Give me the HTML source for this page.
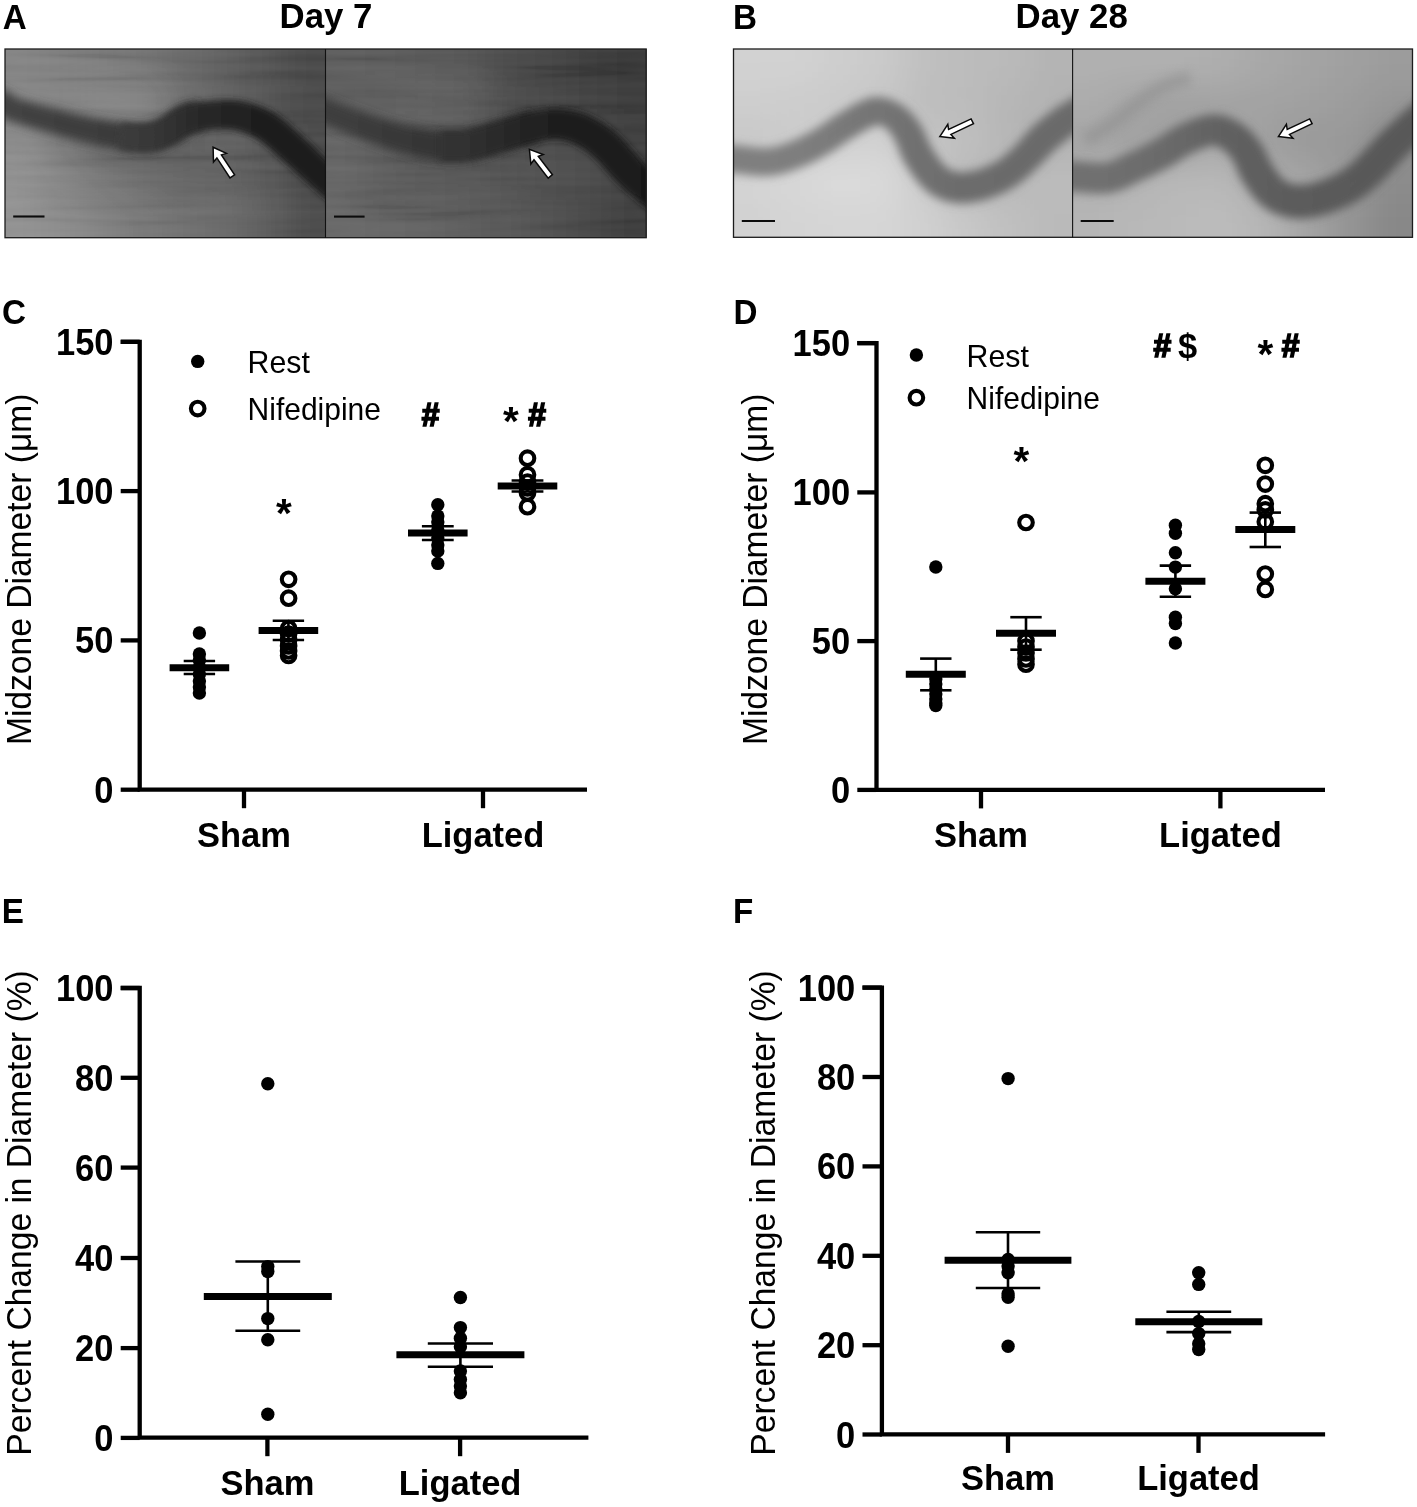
<!DOCTYPE html>
<html lang="en"><head><meta charset="utf-8"><title>Figure</title>
<style>html,body{margin:0;padding:0;background:#fff}body{width:1417px;height:1507px;overflow:hidden}svg{display:block}text{font-family:"Liberation Sans",Arial,sans-serif;fill:#000}.b{font-weight:bold}</style></head><body>
<svg width="1417" height="1507" viewBox="0 0 1417 1507">
<defs>
<filter id="bg" x="-10%" y="-10%" width="120%" height="120%"><feGaussianBlur stdDeviation="16"/></filter>
<filter id="streak" x="0" y="0" width="100%" height="100%"><feTurbulence type="fractalNoise" baseFrequency="0.006 0.11" numOctaves="2" seed="4"/><feColorMatrix type="matrix" values="1.6 0 0 0 -0.38  1.6 0 0 0 -0.38  1.6 0 0 0 -0.38  0 0 0 0 0.3"/></filter>
<filter id="bl4" x="-20%" y="-50%" width="140%" height="200%"><feGaussianBlur stdDeviation="3.2"/></filter>
<filter id="bl5" x="-20%" y="-50%" width="140%" height="200%"><feGaussianBlur stdDeviation="4.6"/></filter>
<filter id="bl6" x="-20%" y="-50%" width="140%" height="200%"><feGaussianBlur stdDeviation="5"/></filter>
<clipPath id="cA1"><rect x="5" y="49" width="320.5" height="189"/></clipPath>
<clipPath id="cA2"><rect x="325.5" y="49" width="321" height="189"/></clipPath>
<clipPath id="cB1"><rect x="733.5" y="49" width="339" height="188.5"/></clipPath>
<clipPath id="cB2"><rect x="1072.5" y="49" width="340" height="188.5"/></clipPath>
</defs>
<text class="b" transform="translate(2.8 28.9) scale(1 1.030)" font-size="33.2" text-anchor="start">A</text>
<text class="b" transform="translate(733.1 28.7) scale(1 1.030)" font-size="33.2" text-anchor="start">B</text>
<text class="b" transform="translate(326.0 27.8) scale(1 1.000)" font-size="34.8" text-anchor="middle">Day 7</text>
<text class="b" transform="translate(1071.7 27.8) scale(1 1.000)" font-size="34.8" text-anchor="middle">Day 28</text>
<g clip-path="url(#cA1)">
<g filter="url(#bg)">
<rect x="-35.6" y="10.7" width="41.1" height="38.8" fill="#848484"/>
<rect x="4.5" y="10.7" width="41.1" height="38.8" fill="#848484"/>
<rect x="44.6" y="10.7" width="41.1" height="38.8" fill="#808080"/>
<rect x="84.6" y="10.7" width="41.1" height="38.8" fill="#7a7a7a"/>
<rect x="124.7" y="10.7" width="41.1" height="38.8" fill="#727272"/>
<rect x="164.8" y="10.7" width="41.1" height="38.8" fill="#686868"/>
<rect x="204.8" y="10.7" width="41.1" height="38.8" fill="#5e5e5e"/>
<rect x="244.9" y="10.7" width="41.1" height="38.8" fill="#525252"/>
<rect x="284.9" y="10.7" width="41.1" height="38.8" fill="#464646"/>
<rect x="325.0" y="10.7" width="41.1" height="38.8" fill="#464646"/>
<rect x="-35.6" y="48.5" width="41.1" height="38.8" fill="#848484"/>
<rect x="4.5" y="48.5" width="41.1" height="38.8" fill="#848484"/>
<rect x="44.6" y="48.5" width="41.1" height="38.8" fill="#808080"/>
<rect x="84.6" y="48.5" width="41.1" height="38.8" fill="#7a7a7a"/>
<rect x="124.7" y="48.5" width="41.1" height="38.8" fill="#727272"/>
<rect x="164.8" y="48.5" width="41.1" height="38.8" fill="#686868"/>
<rect x="204.8" y="48.5" width="41.1" height="38.8" fill="#5e5e5e"/>
<rect x="244.9" y="48.5" width="41.1" height="38.8" fill="#525252"/>
<rect x="284.9" y="48.5" width="41.1" height="38.8" fill="#464646"/>
<rect x="325.0" y="48.5" width="41.1" height="38.8" fill="#464646"/>
<rect x="-35.6" y="86.3" width="41.1" height="38.8" fill="#848484"/>
<rect x="4.5" y="86.3" width="41.1" height="38.8" fill="#848484"/>
<rect x="44.6" y="86.3" width="41.1" height="38.8" fill="#848484"/>
<rect x="84.6" y="86.3" width="41.1" height="38.8" fill="#8a8a8a"/>
<rect x="124.7" y="86.3" width="41.1" height="38.8" fill="#888888"/>
<rect x="164.8" y="86.3" width="41.1" height="38.8" fill="#6c6c6c"/>
<rect x="204.8" y="86.3" width="41.1" height="38.8" fill="#5c5c5c"/>
<rect x="244.9" y="86.3" width="41.1" height="38.8" fill="#505050"/>
<rect x="284.9" y="86.3" width="41.1" height="38.8" fill="#464646"/>
<rect x="325.0" y="86.3" width="41.1" height="38.8" fill="#464646"/>
<rect x="-35.6" y="124.1" width="41.1" height="38.8" fill="#8a8a8a"/>
<rect x="4.5" y="124.1" width="41.1" height="38.8" fill="#8a8a8a"/>
<rect x="44.6" y="124.1" width="41.1" height="38.8" fill="#727272"/>
<rect x="84.6" y="124.1" width="41.1" height="38.8" fill="#5e5e5e"/>
<rect x="124.7" y="124.1" width="41.1" height="38.8" fill="#585858"/>
<rect x="164.8" y="124.1" width="41.1" height="38.8" fill="#5a5a5a"/>
<rect x="204.8" y="124.1" width="41.1" height="38.8" fill="#5e5e5e"/>
<rect x="244.9" y="124.1" width="41.1" height="38.8" fill="#565656"/>
<rect x="284.9" y="124.1" width="41.1" height="38.8" fill="#464646"/>
<rect x="325.0" y="124.1" width="41.1" height="38.8" fill="#464646"/>
<rect x="-35.6" y="161.9" width="41.1" height="38.8" fill="#929292"/>
<rect x="4.5" y="161.9" width="41.1" height="38.8" fill="#929292"/>
<rect x="44.6" y="161.9" width="41.1" height="38.8" fill="#848484"/>
<rect x="84.6" y="161.9" width="41.1" height="38.8" fill="#747474"/>
<rect x="124.7" y="161.9" width="41.1" height="38.8" fill="#6a6a6a"/>
<rect x="164.8" y="161.9" width="41.1" height="38.8" fill="#646464"/>
<rect x="204.8" y="161.9" width="41.1" height="38.8" fill="#626262"/>
<rect x="244.9" y="161.9" width="41.1" height="38.8" fill="#585858"/>
<rect x="284.9" y="161.9" width="41.1" height="38.8" fill="#444444"/>
<rect x="325.0" y="161.9" width="41.1" height="38.8" fill="#444444"/>
<rect x="-35.6" y="199.7" width="41.1" height="38.8" fill="#929292"/>
<rect x="4.5" y="199.7" width="41.1" height="38.8" fill="#929292"/>
<rect x="44.6" y="199.7" width="41.1" height="38.8" fill="#8c8c8c"/>
<rect x="84.6" y="199.7" width="41.1" height="38.8" fill="#828282"/>
<rect x="124.7" y="199.7" width="41.1" height="38.8" fill="#787878"/>
<rect x="164.8" y="199.7" width="41.1" height="38.8" fill="#6e6e6e"/>
<rect x="204.8" y="199.7" width="41.1" height="38.8" fill="#686868"/>
<rect x="244.9" y="199.7" width="41.1" height="38.8" fill="#5c5c5c"/>
<rect x="284.9" y="199.7" width="41.1" height="38.8" fill="#4a4a4a"/>
<rect x="325.0" y="199.7" width="41.1" height="38.8" fill="#4a4a4a"/>
<rect x="-35.6" y="237.5" width="41.1" height="38.8" fill="#929292"/>
<rect x="4.5" y="237.5" width="41.1" height="38.8" fill="#929292"/>
<rect x="44.6" y="237.5" width="41.1" height="38.8" fill="#8c8c8c"/>
<rect x="84.6" y="237.5" width="41.1" height="38.8" fill="#828282"/>
<rect x="124.7" y="237.5" width="41.1" height="38.8" fill="#787878"/>
<rect x="164.8" y="237.5" width="41.1" height="38.8" fill="#6e6e6e"/>
<rect x="204.8" y="237.5" width="41.1" height="38.8" fill="#686868"/>
<rect x="244.9" y="237.5" width="41.1" height="38.8" fill="#5c5c5c"/>
<rect x="284.9" y="237.5" width="41.1" height="38.8" fill="#4a4a4a"/>
<rect x="325.0" y="237.5" width="41.1" height="38.8" fill="#4a4a4a"/>
</g>
<rect x="5" y="49" width="321" height="189" filter="url(#streak)" opacity="0.2"/>
<linearGradient id="vA1a" gradientUnits="userSpaceOnUse" x1="-15.0" y1="0" x2="200.0" y2="0"><stop offset="0.000" stop-color="#454545"/><stop offset="0.349" stop-color="#3e3e3e"/><stop offset="0.767" stop-color="#383838"/><stop offset="1.000" stop-color="#2c2c2c"/></linearGradient>
<polygon points="-19.9,106.0 -18.8,106.4 -17.5,107.0 -15.9,107.7 -14.2,108.5 -12.3,109.3 -10.3,110.1 -8.4,111.0 -6.4,111.9 -4.6,112.7 -3.0,113.5 -1.6,114.1 -0.6,114.6 -0.4,114.7 -1.0,114.3 -2.0,113.3 -2.8,112.2 -3.0,111.8 -2.5,112.8 -1.0,114.8 0.9,116.7 2.9,118.1 4.8,119.1 6.8,120.0 9.0,120.8 11.4,121.7 14.2,122.6 17.3,123.6 20.5,124.6 24.0,125.6 27.7,126.7 31.4,127.8 35.2,128.9 39.0,130.0 42.7,131.1 46.3,132.1 49.8,133.1 53.1,134.0 56.4,134.9 59.7,135.9 63.1,136.8 66.5,137.7 69.8,138.7 73.2,139.6 76.6,140.5 80.0,141.3 83.5,142.1 86.9,143.0 90.4,143.7 93.9,144.5 97.5,145.2 101.1,145.9 104.8,146.7 108.5,147.3 112.2,148.0 115.8,148.6 119.3,149.2 122.6,149.7 125.8,150.2 128.8,150.6 131.6,150.9 134.2,151.2 136.5,151.4 138.7,151.6 140.7,151.7 142.7,151.8 144.6,151.8 146.4,151.7 148.1,151.6 149.8,151.5 151.4,151.3 153.0,151.0 154.6,150.7 156.4,150.4 158.3,150.0 160.0,149.5 161.8,149.0 163.5,148.4 165.1,147.7 166.7,147.1 168.3,146.4 169.8,145.7 171.3,145.0 172.9,144.2 174.5,143.4 176.4,142.4 178.4,141.2 180.3,140.1 182.1,138.9 183.8,137.8 185.5,136.7 187.1,135.7 188.6,134.7 189.9,133.9 191.1,133.2 192.0,132.7 192.7,132.4 193.2,132.2 193.9,132.0 194.6,131.8 195.3,131.6 196.2,131.4 197.0,131.2 197.9,131.0 198.9,130.9 199.8,130.8 200.8,130.6 202.0,130.4 203.0,130.2 197.0,101.8 196.7,101.9 196.3,101.9 195.6,102.0 194.5,102.2 193.2,102.4 191.8,102.6 190.2,102.9 188.4,103.3 186.5,103.8 184.5,104.5 182.5,105.2 180.3,106.2 178.2,107.3 176.3,108.4 174.4,109.6 172.6,110.8 170.9,112.1 169.3,113.3 167.7,114.4 166.2,115.5 164.9,116.5 163.6,117.3 162.5,118.0 161.5,118.6 160.3,119.2 159.1,119.8 158.0,120.4 156.9,120.9 155.9,121.3 154.9,121.7 154.0,122.0 153.1,122.3 152.3,122.5 151.4,122.8 150.4,123.0 149.4,123.3 148.2,123.5 147.1,123.7 146.1,123.9 145.2,124.0 144.3,124.2 143.4,124.3 142.4,124.3 141.3,124.4 139.9,124.4 138.4,124.3 136.5,124.2 134.4,124.1 132.0,123.8 129.3,123.6 126.3,123.2 123.2,122.8 119.9,122.3 116.4,121.8 112.9,121.3 109.4,120.7 105.9,120.1 102.4,119.5 98.9,118.9 95.6,118.3 92.4,117.6 89.2,117.0 86.0,116.2 82.7,115.5 79.4,114.7 76.2,114.0 72.9,113.2 69.6,112.3 66.3,111.5 62.9,110.6 59.6,109.8 56.2,108.9 52.8,108.0 49.2,107.1 45.5,106.2 41.8,105.2 38.0,104.2 34.3,103.2 30.8,102.2 27.4,101.3 24.2,100.4 21.4,99.6 19.0,98.8 17.0,98.2 15.7,97.7 15.1,97.5 15.2,97.5 15.9,98.0 17.0,99.1 18.0,100.4 18.2,100.7 17.5,99.5 16.1,97.6 14.3,95.8 12.4,94.4 10.6,93.4 9.0,92.6 7.2,91.7 5.4,90.9 3.4,90.0 1.4,89.1 -0.7,88.2 -2.7,87.3 -4.6,86.5 -6.3,85.7 -7.9,85.0 -9.2,84.5 -10.1,84.0" fill="url(#vA1a)" filter="url(#bl5)" />
<linearGradient id="vA1" gradientUnits="userSpaceOnUse" x1="120.0" y1="0" x2="345.0" y2="0"><stop offset="0.000" stop-color="#3c3c3c"/><stop offset="0.133" stop-color="#383838"/><stop offset="0.356" stop-color="#282828"/><stop offset="0.622" stop-color="#1e1e1e"/><stop offset="1.000" stop-color="#1c1c1c"/></linearGradient>
<polygon points="118.3,149.4 118.8,149.4 119.3,149.5 120.2,149.6 121.1,149.8 122.2,150.0 123.5,150.1 124.8,150.3 126.2,150.5 127.7,150.6 129.3,150.8 130.9,150.9 132.5,151.0 133.9,151.1 135.4,151.1 137.0,151.2 138.7,151.3 140.5,151.4 142.4,151.5 144.3,151.5 146.3,151.5 148.3,151.4 150.3,151.3 152.4,151.1 154.5,150.8 156.5,150.4 158.3,150.0 160.1,149.5 161.8,148.9 163.5,148.3 165.2,147.7 166.7,147.0 168.3,146.4 169.8,145.7 171.3,145.0 172.8,144.2 174.4,143.4 176.4,142.4 178.4,141.2 180.2,140.0 181.9,138.9 183.4,137.9 184.8,136.9 186.1,136.1 187.3,135.4 188.5,134.7 189.5,134.2 190.4,133.8 191.4,133.4 192.7,133.0 194.2,132.6 195.9,132.2 197.7,131.8 199.6,131.4 201.6,131.1 203.6,130.7 205.7,130.5 207.8,130.2 209.9,130.0 212.0,129.8 214.1,129.7 216.2,129.5 218.3,129.4 220.3,129.4 222.3,129.3 224.2,129.3 226.1,129.4 228.0,129.5 229.8,129.6 231.5,129.8 233.2,130.0 234.9,130.3 236.5,130.7 238.3,131.1 240.2,131.6 242.0,132.2 243.8,132.8 245.6,133.5 247.4,134.2 249.2,134.9 251.0,135.8 252.7,136.7 254.5,137.6 256.3,138.6 258.0,139.7 259.7,140.8 261.5,142.1 263.4,143.5 265.4,145.2 267.5,146.9 269.6,148.7 271.8,150.6 273.9,152.6 276.1,154.5 278.3,156.4 280.4,158.3 282.4,160.1 284.3,161.7 286.1,163.3 287.9,164.9 289.6,166.4 291.4,168.0 293.1,169.5 294.7,171.0 296.3,172.5 297.9,174.0 299.5,175.4 301.0,176.7 302.4,178.0 303.7,179.2 304.9,180.2 305.9,181.1 306.8,182.0 307.7,182.8 308.6,183.6 309.5,184.4 310.4,185.2 311.3,186.0 312.4,186.9 313.5,187.9 314.8,189.1 316.3,190.4 318.0,191.8 319.9,193.4 321.8,195.1 323.8,196.8 325.9,198.5 327.8,200.1 329.7,201.7 331.5,203.2 333.0,204.5 334.3,205.6 335.3,206.4 354.7,183.6 353.7,182.7 352.4,181.6 350.8,180.3 349.1,178.8 347.2,177.2 345.2,175.6 343.2,173.9 341.2,172.2 339.3,170.5 337.5,169.0 335.8,167.6 334.4,166.3 333.2,165.3 332.0,164.3 331.1,163.5 330.2,162.7 329.3,162.0 328.5,161.3 327.7,160.6 326.9,159.8 326.0,159.0 325.1,158.1 324.0,157.1 322.8,156.0 321.5,154.7 320.1,153.4 318.7,152.1 317.2,150.6 315.7,149.0 314.1,147.4 312.4,145.7 310.6,144.0 308.8,142.2 306.9,140.4 304.9,138.6 303.0,136.9 301.1,135.2 299.1,133.4 297.0,131.5 294.8,129.4 292.5,127.4 290.1,125.3 287.7,123.2 285.1,121.1 282.5,119.0 279.9,117.0 277.1,115.1 274.4,113.3 271.7,111.8 269.0,110.3 266.4,109.0 263.7,107.8 261.1,106.7 258.4,105.7 255.8,104.7 253.1,103.9 250.5,103.1 247.9,102.5 245.3,101.9 242.7,101.3 239.9,100.8 237.1,100.5 234.4,100.2 231.7,100.0 229.0,99.9 226.4,99.9 223.9,100.0 221.4,100.1 219.0,100.2 216.6,100.4 214.3,100.6 211.9,100.7 209.6,100.9 207.1,101.2 204.6,101.4 202.1,101.7 199.5,102.1 196.9,102.4 194.3,102.9 191.8,103.4 189.2,103.9 186.7,104.6 184.2,105.3 181.6,106.2 178.9,107.2 176.4,108.5 174.1,109.8 172.0,111.1 170.1,112.4 168.4,113.7 166.8,114.8 165.5,115.9 164.3,116.8 163.3,117.5 162.4,118.1 161.6,118.6 160.4,119.1 159.2,119.8 158.0,120.3 156.9,120.8 155.9,121.3 154.9,121.6 154.0,122.0 153.1,122.3 152.2,122.6 151.3,122.8 150.4,123.0 149.5,123.2 148.6,123.4 147.6,123.6 146.4,123.7 145.1,123.8 143.7,123.9 142.3,124.0 140.8,124.0 139.3,124.0 137.8,124.0 136.3,124.0 134.8,124.0 133.5,124.0 132.4,124.0 131.4,123.9 130.3,123.8 129.3,123.7 128.2,123.6 127.2,123.4 126.2,123.3 125.2,123.1 124.2,123.0 123.3,122.8 122.5,122.7 121.7,122.6" fill="url(#vA1)" filter="url(#bl4)" />
</g>
<g clip-path="url(#cA2)">
<g filter="url(#bg)">
<rect x="284.9" y="10.7" width="41.1" height="38.8" fill="#5c5c5c"/>
<rect x="325.0" y="10.7" width="41.1" height="38.8" fill="#5c5c5c"/>
<rect x="365.1" y="10.7" width="41.1" height="38.8" fill="#5a5a5a"/>
<rect x="405.2" y="10.7" width="41.1" height="38.8" fill="#565656"/>
<rect x="445.4" y="10.7" width="41.1" height="38.8" fill="#525252"/>
<rect x="485.5" y="10.7" width="41.1" height="38.8" fill="#4a4a4a"/>
<rect x="525.6" y="10.7" width="41.1" height="38.8" fill="#444444"/>
<rect x="565.8" y="10.7" width="41.1" height="38.8" fill="#3e3e3e"/>
<rect x="605.9" y="10.7" width="41.1" height="38.8" fill="#383838"/>
<rect x="646.0" y="10.7" width="41.1" height="38.8" fill="#383838"/>
<rect x="284.9" y="48.5" width="41.1" height="38.8" fill="#5c5c5c"/>
<rect x="325.0" y="48.5" width="41.1" height="38.8" fill="#5c5c5c"/>
<rect x="365.1" y="48.5" width="41.1" height="38.8" fill="#5a5a5a"/>
<rect x="405.2" y="48.5" width="41.1" height="38.8" fill="#565656"/>
<rect x="445.4" y="48.5" width="41.1" height="38.8" fill="#525252"/>
<rect x="485.5" y="48.5" width="41.1" height="38.8" fill="#4a4a4a"/>
<rect x="525.6" y="48.5" width="41.1" height="38.8" fill="#444444"/>
<rect x="565.8" y="48.5" width="41.1" height="38.8" fill="#3e3e3e"/>
<rect x="605.9" y="48.5" width="41.1" height="38.8" fill="#383838"/>
<rect x="646.0" y="48.5" width="41.1" height="38.8" fill="#383838"/>
<rect x="284.9" y="86.3" width="41.1" height="38.8" fill="#5c5c5c"/>
<rect x="325.0" y="86.3" width="41.1" height="38.8" fill="#5c5c5c"/>
<rect x="365.1" y="86.3" width="41.1" height="38.8" fill="#5e5e5e"/>
<rect x="405.2" y="86.3" width="41.1" height="38.8" fill="#626262"/>
<rect x="445.4" y="86.3" width="41.1" height="38.8" fill="#5e5e5e"/>
<rect x="485.5" y="86.3" width="41.1" height="38.8" fill="#4c4c4c"/>
<rect x="525.6" y="86.3" width="41.1" height="38.8" fill="#444444"/>
<rect x="565.8" y="86.3" width="41.1" height="38.8" fill="#3e3e3e"/>
<rect x="605.9" y="86.3" width="41.1" height="38.8" fill="#383838"/>
<rect x="646.0" y="86.3" width="41.1" height="38.8" fill="#383838"/>
<rect x="284.9" y="124.1" width="41.1" height="38.8" fill="#626262"/>
<rect x="325.0" y="124.1" width="41.1" height="38.8" fill="#626262"/>
<rect x="365.1" y="124.1" width="41.1" height="38.8" fill="#5a5a5a"/>
<rect x="405.2" y="124.1" width="41.1" height="38.8" fill="#545454"/>
<rect x="445.4" y="124.1" width="41.1" height="38.8" fill="#525252"/>
<rect x="485.5" y="124.1" width="41.1" height="38.8" fill="#4e4e4e"/>
<rect x="525.6" y="124.1" width="41.1" height="38.8" fill="#4c4c4c"/>
<rect x="565.8" y="124.1" width="41.1" height="38.8" fill="#464646"/>
<rect x="605.9" y="124.1" width="41.1" height="38.8" fill="#3c3c3c"/>
<rect x="646.0" y="124.1" width="41.1" height="38.8" fill="#3c3c3c"/>
<rect x="284.9" y="161.9" width="41.1" height="38.8" fill="#646464"/>
<rect x="325.0" y="161.9" width="41.1" height="38.8" fill="#646464"/>
<rect x="365.1" y="161.9" width="41.1" height="38.8" fill="#5c5c5c"/>
<rect x="405.2" y="161.9" width="41.1" height="38.8" fill="#585858"/>
<rect x="445.4" y="161.9" width="41.1" height="38.8" fill="#565656"/>
<rect x="485.5" y="161.9" width="41.1" height="38.8" fill="#505050"/>
<rect x="525.6" y="161.9" width="41.1" height="38.8" fill="#4c4c4c"/>
<rect x="565.8" y="161.9" width="41.1" height="38.8" fill="#464646"/>
<rect x="605.9" y="161.9" width="41.1" height="38.8" fill="#3c3c3c"/>
<rect x="646.0" y="161.9" width="41.1" height="38.8" fill="#3c3c3c"/>
<rect x="284.9" y="199.7" width="41.1" height="38.8" fill="#666666"/>
<rect x="325.0" y="199.7" width="41.1" height="38.8" fill="#666666"/>
<rect x="365.1" y="199.7" width="41.1" height="38.8" fill="#626262"/>
<rect x="405.2" y="199.7" width="41.1" height="38.8" fill="#606060"/>
<rect x="445.4" y="199.7" width="41.1" height="38.8" fill="#5c5c5c"/>
<rect x="485.5" y="199.7" width="41.1" height="38.8" fill="#545454"/>
<rect x="525.6" y="199.7" width="41.1" height="38.8" fill="#4e4e4e"/>
<rect x="565.8" y="199.7" width="41.1" height="38.8" fill="#464646"/>
<rect x="605.9" y="199.7" width="41.1" height="38.8" fill="#3e3e3e"/>
<rect x="646.0" y="199.7" width="41.1" height="38.8" fill="#3e3e3e"/>
<rect x="284.9" y="237.5" width="41.1" height="38.8" fill="#666666"/>
<rect x="325.0" y="237.5" width="41.1" height="38.8" fill="#666666"/>
<rect x="365.1" y="237.5" width="41.1" height="38.8" fill="#626262"/>
<rect x="405.2" y="237.5" width="41.1" height="38.8" fill="#606060"/>
<rect x="445.4" y="237.5" width="41.1" height="38.8" fill="#5c5c5c"/>
<rect x="485.5" y="237.5" width="41.1" height="38.8" fill="#545454"/>
<rect x="525.6" y="237.5" width="41.1" height="38.8" fill="#4e4e4e"/>
<rect x="565.8" y="237.5" width="41.1" height="38.8" fill="#464646"/>
<rect x="605.9" y="237.5" width="41.1" height="38.8" fill="#3e3e3e"/>
<rect x="646.0" y="237.5" width="41.1" height="38.8" fill="#3e3e3e"/>
</g>
<rect x="325" y="49" width="322" height="189" filter="url(#streak)" opacity="0.2"/>
<linearGradient id="vA2a" gradientUnits="userSpaceOnUse" x1="305.0" y1="0" x2="535.0" y2="0"><stop offset="0.000" stop-color="#404040"/><stop offset="0.413" stop-color="#383838"/><stop offset="0.761" stop-color="#2e2e2e"/><stop offset="1.000" stop-color="#222222"/></linearGradient>
<polygon points="300.3,114.6 301.3,115.0 302.5,115.4 303.8,116.0 305.3,116.6 307.0,117.2 308.7,117.9 310.6,118.7 312.6,119.5 314.7,120.3 316.9,121.2 319.1,122.1 321.4,123.0 323.7,124.0 326.2,125.0 328.7,126.0 331.4,127.1 334.2,128.3 337.0,129.5 340.0,130.7 343.0,131.9 346.0,133.1 349.1,134.4 352.2,135.6 355.3,136.8 358.4,138.0 361.6,139.2 364.8,140.5 368.1,141.8 371.5,143.1 374.9,144.4 378.4,145.6 381.8,146.9 385.4,148.1 388.9,149.3 392.4,150.5 396.0,151.5 399.5,152.5 403.0,153.5 406.6,154.5 410.3,155.4 413.9,156.3 417.5,157.1 421.1,157.9 424.6,158.6 428.0,159.3 431.4,159.9 434.6,160.4 437.7,160.8 440.7,161.1 443.7,161.4 446.5,161.6 449.2,161.6 451.8,161.7 454.3,161.6 456.7,161.5 459.1,161.3 461.3,161.1 463.5,160.9 465.7,160.6 467.9,160.4 470.3,160.0 472.7,159.6 474.9,159.2 477.1,158.7 479.2,158.2 481.2,157.6 483.2,157.1 485.0,156.5 486.8,156.0 488.5,155.4 490.3,154.9 492.0,154.4 494.0,153.9 496.0,153.3 498.0,152.7 500.1,152.1 502.1,151.5 504.1,150.9 506.1,150.3 508.0,149.7 510.0,149.1 511.9,148.5 513.8,147.9 515.7,147.4 517.7,146.9 519.9,146.3 522.1,145.7 524.3,145.2 526.6,144.6 528.8,144.0 531.0,143.5 533.0,143.0 534.9,142.5 536.5,142.1 538.0,141.7 539.1,141.4 530.9,111.6 529.8,111.9 528.4,112.3 526.7,112.8 524.9,113.4 522.9,114.0 520.7,114.6 518.5,115.3 516.2,116.0 513.9,116.6 511.7,117.3 509.5,118.0 507.5,118.6 505.4,119.2 503.4,119.8 501.4,120.4 499.3,121.0 497.3,121.6 495.4,122.2 493.4,122.8 491.5,123.4 489.5,124.0 487.7,124.5 485.8,125.0 484.0,125.6 482.0,126.1 480.0,126.7 478.2,127.2 476.4,127.8 474.8,128.3 473.2,128.7 471.6,129.1 470.1,129.5 468.6,129.9 467.2,130.1 465.7,130.4 464.1,130.6 462.3,130.8 460.4,131.0 458.6,131.2 456.9,131.3 455.1,131.4 453.3,131.5 451.5,131.5 449.7,131.5 447.7,131.4 445.6,131.3 443.4,131.2 441.1,131.0 438.5,130.7 435.7,130.4 432.8,130.0 429.7,129.6 426.5,129.1 423.2,128.5 419.8,127.9 416.5,127.3 413.1,126.7 409.7,126.0 406.4,125.2 403.2,124.5 400.1,123.7 396.9,122.8 393.7,121.9 390.4,121.0 387.1,120.0 383.7,118.9 380.4,117.8 377.1,116.7 373.8,115.6 370.6,114.5 367.4,113.4 364.3,112.4 361.2,111.3 358.2,110.3 355.2,109.2 352.3,108.1 349.3,107.0 346.4,105.9 343.6,104.8 340.8,103.7 338.1,102.7 335.5,101.7 333.0,100.7 330.6,99.8 328.3,98.9 326.1,98.0 324.0,97.2 321.9,96.4 319.9,95.6 318.0,94.8 316.3,94.1 314.6,93.4 313.1,92.8 311.8,92.3 310.6,91.8 309.7,91.4" fill="url(#vA2a)" filter="url(#bl5)" />
<linearGradient id="vA2" gradientUnits="userSpaceOnUse" x1="440.0" y1="0" x2="665.0" y2="0"><stop offset="0.000" stop-color="#343434"/><stop offset="0.178" stop-color="#2e2e2e"/><stop offset="0.444" stop-color="#202020"/><stop offset="1.000" stop-color="#181818"/></linearGradient>
<polygon points="440.0,160.9 441.2,160.9 442.7,160.9 444.5,160.9 446.6,161.0 449.0,161.0 451.5,161.0 454.2,161.0 456.9,161.0 459.7,161.0 462.4,160.8 465.1,160.7 467.8,160.4 470.3,160.0 472.6,159.6 474.9,159.2 477.1,158.7 479.2,158.2 481.2,157.6 483.1,157.1 485.0,156.5 486.8,156.0 488.5,155.5 490.3,154.9 492.0,154.4 494.0,153.9 496.0,153.3 498.0,152.7 500.1,152.1 502.1,151.5 504.1,150.9 506.1,150.3 508.0,149.7 510.0,149.1 511.9,148.5 513.8,147.9 515.8,147.4 517.8,146.8 519.9,146.3 521.9,145.7 523.8,145.1 525.8,144.6 527.7,144.1 529.5,143.6 531.3,143.2 533.0,142.7 534.7,142.4 536.4,142.0 538.0,141.7 539.9,141.4 541.7,141.0 543.5,140.7 545.2,140.4 546.9,140.1 548.5,139.9 550.0,139.7 551.5,139.5 553.0,139.4 554.3,139.4 555.6,139.4 557.0,139.5 558.5,139.6 560.1,139.8 561.6,140.1 563.2,140.3 564.7,140.7 566.2,141.0 567.7,141.5 569.2,141.9 570.7,142.5 572.2,143.0 573.6,143.6 575.1,144.3 576.6,145.1 578.2,145.9 579.7,146.8 581.3,147.7 582.8,148.7 584.4,149.8 586.0,150.9 587.6,152.1 589.2,153.3 590.9,154.6 592.5,156.0 594.1,157.4 595.6,158.8 597.2,160.4 598.9,162.2 600.8,164.2 602.7,166.3 604.6,168.6 606.6,170.9 608.6,173.2 610.6,175.5 612.7,177.8 614.7,180.0 616.8,182.1 618.7,184.0 620.4,185.7 622.1,187.2 623.7,188.7 625.3,190.1 626.8,191.4 628.3,192.6 629.7,193.8 631.1,195.0 632.4,196.1 633.8,197.3 635.3,198.5 636.9,199.9 638.6,201.4 640.4,202.9 642.3,204.5 644.2,206.1 646.0,207.6 647.8,209.1 649.4,210.5 651.0,211.8 652.3,212.9 653.5,213.9 654.4,214.6 675.6,189.4 674.7,188.6 673.5,187.6 672.1,186.5 670.6,185.2 668.9,183.8 667.2,182.3 665.4,180.8 663.6,179.3 661.7,177.7 660.0,176.2 658.3,174.8 656.7,173.5 655.2,172.2 653.7,170.9 652.3,169.7 650.9,168.5 649.6,167.4 648.3,166.3 647.0,165.2 645.7,164.1 644.4,162.9 643.1,161.7 641.7,160.3 640.2,158.9 638.8,157.4 637.2,155.6 635.4,153.7 633.6,151.5 631.6,149.3 629.6,146.9 627.5,144.5 625.3,142.0 623.1,139.6 620.8,137.2 618.3,134.8 615.9,132.6 613.6,130.7 611.3,128.9 609.1,127.2 606.8,125.5 604.5,124.0 602.2,122.5 599.9,121.1 597.5,119.7 595.2,118.5 592.9,117.3 590.5,116.1 588.1,115.1 585.7,114.1 583.2,113.2 580.7,112.4 578.2,111.6 575.8,111.0 573.3,110.4 570.9,109.9 568.5,109.5 566.1,109.2 563.7,108.9 561.4,108.7 559.0,108.5 556.5,108.4 554.0,108.4 551.5,108.5 549.1,108.6 546.7,108.9 544.5,109.1 542.3,109.4 540.1,109.8 538.0,110.1 536.0,110.5 534.0,110.9 532.0,111.3 529.8,111.8 527.5,112.3 525.3,112.9 523.2,113.5 521.1,114.2 519.0,114.8 517.0,115.5 515.0,116.2 513.1,116.8 511.2,117.4 509.3,118.0 507.4,118.6 505.4,119.2 503.4,119.8 501.4,120.4 499.3,121.0 497.3,121.6 495.4,122.2 493.4,122.8 491.5,123.4 489.5,124.0 487.7,124.5 485.8,125.0 484.0,125.6 482.0,126.1 480.0,126.7 478.2,127.2 476.4,127.8 474.7,128.3 473.1,128.7 471.6,129.1 470.1,129.5 468.6,129.9 467.1,130.2 465.7,130.4 464.2,130.6 462.6,130.8 460.8,130.9 458.7,131.0 456.4,131.0 454.1,131.0 451.7,131.0 449.4,131.0 447.1,131.0 445.0,130.9 443.1,130.9 441.4,130.9 440.0,130.9" fill="url(#vA2)" filter="url(#bl4)" />
</g>
<rect x="5" y="49" width="641.2" height="188.7" fill="none" stroke="#1c1c1c" stroke-width="1.3"/>
<line x1="325.5" y1="49" x2="325.5" y2="238" stroke="#111" stroke-width="1.1"/>
<line x1="13.2" y1="216.5" x2="44.5" y2="216.5" stroke="#0c0c0c" stroke-width="2.1"/>
<line x1="334" y1="216.6" x2="364.6" y2="216.6" stroke="#0c0c0c" stroke-width="2.1"/>
<polygon points="213.1,147.2 213.5,161.9 216.9,157.9 230.0,177.9 234.6,174.9 221.4,154.9 226.4,153.4" fill="#fff" stroke="#0a0a0a" stroke-width="1.5" stroke-linejoin="miter"/>
<polygon points="529.4,149.4 530.9,164.0 534.0,159.8 548.2,178.1 552.4,174.7 538.3,156.4 543.2,154.5" fill="#fff" stroke="#0a0a0a" stroke-width="1.5" stroke-linejoin="miter"/>
<g clip-path="url(#cB1)">
<g filter="url(#bg)">
<rect x="690.6" y="10.8" width="43.4" height="38.7" fill="#d2d2d2"/>
<rect x="733.0" y="10.8" width="43.4" height="38.7" fill="#d2d2d2"/>
<rect x="775.4" y="10.8" width="43.4" height="38.7" fill="#d2d2d2"/>
<rect x="817.8" y="10.8" width="43.4" height="38.7" fill="#cecece"/>
<rect x="860.1" y="10.8" width="43.4" height="38.7" fill="#cacaca"/>
<rect x="902.5" y="10.8" width="43.4" height="38.7" fill="#c0c0c0"/>
<rect x="944.9" y="10.8" width="43.4" height="38.7" fill="#bcbcbc"/>
<rect x="987.2" y="10.8" width="43.4" height="38.7" fill="#bababa"/>
<rect x="1029.6" y="10.8" width="43.4" height="38.7" fill="#b4b4b4"/>
<rect x="1072.0" y="10.8" width="43.4" height="38.7" fill="#b4b4b4"/>
<rect x="690.6" y="48.5" width="43.4" height="38.7" fill="#d2d2d2"/>
<rect x="733.0" y="48.5" width="43.4" height="38.7" fill="#d2d2d2"/>
<rect x="775.4" y="48.5" width="43.4" height="38.7" fill="#d2d2d2"/>
<rect x="817.8" y="48.5" width="43.4" height="38.7" fill="#cecece"/>
<rect x="860.1" y="48.5" width="43.4" height="38.7" fill="#cacaca"/>
<rect x="902.5" y="48.5" width="43.4" height="38.7" fill="#c0c0c0"/>
<rect x="944.9" y="48.5" width="43.4" height="38.7" fill="#bcbcbc"/>
<rect x="987.2" y="48.5" width="43.4" height="38.7" fill="#bababa"/>
<rect x="1029.6" y="48.5" width="43.4" height="38.7" fill="#b4b4b4"/>
<rect x="1072.0" y="48.5" width="43.4" height="38.7" fill="#b4b4b4"/>
<rect x="690.6" y="86.2" width="43.4" height="38.7" fill="#cecece"/>
<rect x="733.0" y="86.2" width="43.4" height="38.7" fill="#cecece"/>
<rect x="775.4" y="86.2" width="43.4" height="38.7" fill="#cccccc"/>
<rect x="817.8" y="86.2" width="43.4" height="38.7" fill="#cacaca"/>
<rect x="860.1" y="86.2" width="43.4" height="38.7" fill="#c6c6c6"/>
<rect x="902.5" y="86.2" width="43.4" height="38.7" fill="#bebebe"/>
<rect x="944.9" y="86.2" width="43.4" height="38.7" fill="#bcbcbc"/>
<rect x="987.2" y="86.2" width="43.4" height="38.7" fill="#b6b6b6"/>
<rect x="1029.6" y="86.2" width="43.4" height="38.7" fill="#b2b2b2"/>
<rect x="1072.0" y="86.2" width="43.4" height="38.7" fill="#b2b2b2"/>
<rect x="690.6" y="123.9" width="43.4" height="38.7" fill="#c8c8c8"/>
<rect x="733.0" y="123.9" width="43.4" height="38.7" fill="#c8c8c8"/>
<rect x="775.4" y="123.9" width="43.4" height="38.7" fill="#cccccc"/>
<rect x="817.8" y="123.9" width="43.4" height="38.7" fill="#d0d0d0"/>
<rect x="860.1" y="123.9" width="43.4" height="38.7" fill="#d2d2d2"/>
<rect x="902.5" y="123.9" width="43.4" height="38.7" fill="#c4c4c4"/>
<rect x="944.9" y="123.9" width="43.4" height="38.7" fill="#c0c0c0"/>
<rect x="987.2" y="123.9" width="43.4" height="38.7" fill="#b6b6b6"/>
<rect x="1029.6" y="123.9" width="43.4" height="38.7" fill="#b4b4b4"/>
<rect x="1072.0" y="123.9" width="43.4" height="38.7" fill="#b4b4b4"/>
<rect x="690.6" y="161.6" width="43.4" height="38.7" fill="#d4d4d4"/>
<rect x="733.0" y="161.6" width="43.4" height="38.7" fill="#d4d4d4"/>
<rect x="775.4" y="161.6" width="43.4" height="38.7" fill="#d8d8d8"/>
<rect x="817.8" y="161.6" width="43.4" height="38.7" fill="#dcdcdc"/>
<rect x="860.1" y="161.6" width="43.4" height="38.7" fill="#dadada"/>
<rect x="902.5" y="161.6" width="43.4" height="38.7" fill="#cccccc"/>
<rect x="944.9" y="161.6" width="43.4" height="38.7" fill="#b8b8b8"/>
<rect x="987.2" y="161.6" width="43.4" height="38.7" fill="#b8b8b8"/>
<rect x="1029.6" y="161.6" width="43.4" height="38.7" fill="#bcbcbc"/>
<rect x="1072.0" y="161.6" width="43.4" height="38.7" fill="#bcbcbc"/>
<rect x="690.6" y="199.3" width="43.4" height="38.7" fill="#d2d2d2"/>
<rect x="733.0" y="199.3" width="43.4" height="38.7" fill="#d2d2d2"/>
<rect x="775.4" y="199.3" width="43.4" height="38.7" fill="#d4d4d4"/>
<rect x="817.8" y="199.3" width="43.4" height="38.7" fill="#d6d6d6"/>
<rect x="860.1" y="199.3" width="43.4" height="38.7" fill="#d6d6d6"/>
<rect x="902.5" y="199.3" width="43.4" height="38.7" fill="#d0d0d0"/>
<rect x="944.9" y="199.3" width="43.4" height="38.7" fill="#c8c8c8"/>
<rect x="987.2" y="199.3" width="43.4" height="38.7" fill="#c0c0c0"/>
<rect x="1029.6" y="199.3" width="43.4" height="38.7" fill="#bababa"/>
<rect x="1072.0" y="199.3" width="43.4" height="38.7" fill="#bababa"/>
<rect x="690.6" y="237.0" width="43.4" height="38.7" fill="#d2d2d2"/>
<rect x="733.0" y="237.0" width="43.4" height="38.7" fill="#d2d2d2"/>
<rect x="775.4" y="237.0" width="43.4" height="38.7" fill="#d4d4d4"/>
<rect x="817.8" y="237.0" width="43.4" height="38.7" fill="#d6d6d6"/>
<rect x="860.1" y="237.0" width="43.4" height="38.7" fill="#d6d6d6"/>
<rect x="902.5" y="237.0" width="43.4" height="38.7" fill="#d0d0d0"/>
<rect x="944.9" y="237.0" width="43.4" height="38.7" fill="#c8c8c8"/>
<rect x="987.2" y="237.0" width="43.4" height="38.7" fill="#c0c0c0"/>
<rect x="1029.6" y="237.0" width="43.4" height="38.7" fill="#bababa"/>
<rect x="1072.0" y="237.0" width="43.4" height="38.7" fill="#bababa"/>
</g>
<linearGradient id="vB1" gradientUnits="userSpaceOnUse" x1="710.0" y1="0" x2="1095.0" y2="0"><stop offset="0.000" stop-color="#808080"/><stop offset="0.234" stop-color="#7e7e7e"/><stop offset="0.442" stop-color="#747474"/><stop offset="0.649" stop-color="#6c6c6c"/><stop offset="1.000" stop-color="#6a6a6a"/></linearGradient>
<polygon points="708.8,171.0 710.0,171.0 711.3,171.2 712.9,171.3 714.7,171.4 716.6,171.6 718.7,171.8 720.9,172.0 723.2,172.2 725.6,172.3 728.0,172.5 730.4,172.8 732.8,172.9 735.1,173.2 737.5,173.4 740.2,173.8 743.1,174.1 746.1,174.5 749.2,174.9 752.3,175.2 755.6,175.5 758.8,175.7 762.1,175.9 765.4,175.9 768.7,175.8 771.7,175.5 774.6,175.2 777.4,174.7 780.1,174.2 782.8,173.6 785.3,172.9 787.8,172.1 790.2,171.4 792.5,170.6 794.8,169.8 797.1,168.9 799.4,168.1 801.8,167.1 804.3,166.1 806.7,165.1 809.2,163.9 811.6,162.8 814.0,161.6 816.4,160.4 818.7,159.2 821.1,157.9 823.4,156.6 825.7,155.3 828.0,154.0 830.5,152.5 833.0,151.0 835.4,149.4 837.7,147.9 840.0,146.3 842.2,144.8 844.4,143.2 846.5,141.8 848.5,140.4 850.5,139.1 852.5,137.9 854.5,136.7 856.7,135.4 859.1,134.0 861.4,132.6 863.6,131.3 865.7,130.0 867.8,128.9 869.8,127.8 871.6,127.0 873.2,126.2 874.6,125.7 875.6,125.4 876.4,125.2 877.1,125.1 877.7,125.1 878.4,125.1 879.1,125.2 879.8,125.3 880.6,125.5 881.4,125.8 882.3,126.2 883.2,126.6 884.2,127.2 885.3,127.8 886.3,128.4 887.0,129.0 887.6,129.5 888.2,130.2 888.9,131.0 889.6,131.9 890.4,133.0 891.2,134.1 891.9,135.3 892.8,136.7 893.6,138.0 894.4,139.5 895.2,140.8 895.7,141.9 896.2,142.9 896.7,144.2 897.3,145.6 897.9,147.2 898.5,149.1 899.2,151.1 900.1,153.2 901.0,155.5 902.1,157.9 903.3,160.4 904.6,162.9 906.0,165.1 907.3,167.2 908.7,169.4 910.2,171.7 911.7,174.0 913.4,176.2 915.1,178.5 916.8,180.8 918.6,183.0 920.5,185.1 922.5,187.2 924.6,189.2 926.6,190.9 928.6,192.5 930.6,194.0 932.7,195.4 934.9,196.6 937.1,197.8 939.3,198.8 941.6,199.7 943.9,200.5 946.2,201.2 948.5,201.8 950.9,202.2 953.4,202.6 955.9,202.9 958.5,203.1 961.0,203.2 963.6,203.2 966.1,203.1 968.6,202.9 971.2,202.6 973.7,202.3 976.2,201.8 978.7,201.3 981.2,200.8 983.8,200.1 986.4,199.4 989.0,198.5 991.7,197.6 994.3,196.7 996.9,195.6 999.5,194.5 1002.0,193.4 1004.5,192.2 1007.0,191.0 1009.4,189.7 1011.8,188.4 1014.1,187.0 1016.3,185.6 1018.4,184.1 1020.5,182.6 1022.4,181.1 1024.3,179.5 1026.1,178.0 1027.9,176.4 1029.6,174.9 1031.2,173.4 1032.9,171.9 1034.6,170.3 1036.5,168.5 1038.5,166.6 1040.4,164.7 1042.2,162.8 1044.0,160.9 1045.7,159.0 1047.4,157.3 1049.0,155.5 1050.6,153.9 1052.1,152.4 1053.5,151.0 1054.9,149.7 1056.4,148.4 1057.9,147.1 1059.5,145.7 1061.2,144.3 1062.9,143.0 1064.6,141.6 1066.2,140.3 1067.8,139.1 1069.4,137.9 1070.8,136.8 1072.2,135.8 1073.5,134.8 1074.4,134.1 1075.1,133.6 1075.6,133.3 1075.8,133.1 1075.8,133.1 1075.9,133.1 1076.0,133.0 1076.5,132.8 1077.2,132.4 1078.1,131.9 1079.2,131.3 1080.5,130.6 1081.9,129.7 1083.6,128.8 1085.6,127.7 1087.7,126.5 1089.9,125.2 1092.1,124.0 1094.4,122.7 1096.5,121.5 1098.5,120.4 1100.2,119.4 1101.7,118.6 1102.9,117.9 1087.1,90.1 1086.0,90.7 1084.6,91.5 1082.8,92.5 1080.8,93.6 1078.7,94.8 1076.4,96.1 1074.2,97.3 1071.9,98.6 1069.8,99.8 1067.8,101.0 1066.0,102.0 1064.5,102.8 1063.5,103.4 1062.7,103.9 1062.1,104.2 1061.6,104.5 1061.0,104.8 1060.2,105.2 1059.3,105.7 1058.4,106.3 1057.5,106.9 1056.5,107.6 1055.5,108.3 1054.3,109.2 1053.1,110.1 1051.6,111.2 1050.1,112.4 1048.4,113.6 1046.6,115.0 1044.8,116.4 1042.9,117.9 1040.9,119.5 1039.0,121.1 1037.0,122.8 1035.0,124.5 1033.1,126.3 1031.1,128.2 1029.2,130.2 1027.4,132.1 1025.7,134.1 1024.0,136.0 1022.3,138.0 1020.7,139.8 1019.1,141.6 1017.6,143.3 1016.2,144.9 1014.8,146.3 1013.4,147.7 1011.8,149.2 1010.3,150.6 1008.7,152.0 1007.3,153.4 1005.9,154.6 1004.5,155.8 1003.1,156.9 1001.8,157.9 1000.5,158.9 999.1,159.8 997.7,160.7 996.2,161.6 994.6,162.5 992.9,163.4 991.0,164.3 989.1,165.2 987.2,166.1 985.2,166.9 983.2,167.7 981.2,168.4 979.3,169.1 977.4,169.7 975.7,170.2 974.0,170.6 972.3,171.0 970.6,171.3 969.0,171.6 967.4,171.8 965.8,172.0 964.2,172.1 962.8,172.2 961.4,172.2 960.0,172.2 958.8,172.1 957.6,171.9 956.5,171.8 955.4,171.5 954.3,171.3 953.3,171.0 952.4,170.7 951.6,170.3 950.7,169.9 949.9,169.5 949.1,169.0 948.2,168.5 947.3,167.8 946.4,167.0 945.4,166.2 944.5,165.3 943.4,164.2 942.3,162.9 941.1,161.4 939.8,159.8 938.5,158.0 937.3,156.2 936.0,154.4 934.7,152.5 933.5,150.6 932.4,148.8 931.4,147.1 930.6,145.8 929.9,144.5 929.2,143.1 928.5,141.6 927.9,139.9 927.1,138.1 926.3,136.2 925.5,134.2 924.5,132.0 923.4,129.7 922.2,127.4 920.8,125.2 919.5,123.3 918.3,121.6 917.0,119.9 915.7,118.1 914.3,116.4 912.8,114.6 911.2,112.9 909.5,111.2 907.6,109.5 905.7,107.9 903.6,106.3 901.5,105.0 899.6,103.8 897.7,102.8 895.7,101.7 893.6,100.7 891.3,99.8 888.9,98.9 886.3,98.2 883.6,97.6 880.8,97.2 877.8,97.1 874.7,97.2 871.6,97.6 868.4,98.3 865.3,99.3 862.5,100.4 859.7,101.6 857.0,102.9 854.4,104.3 851.9,105.7 849.4,107.1 847.0,108.5 844.7,109.9 842.5,111.2 840.3,112.5 837.9,114.0 835.4,115.5 833.0,117.1 830.7,118.6 828.4,120.2 826.2,121.8 824.0,123.3 821.9,124.7 819.9,126.1 817.9,127.4 815.9,128.6 814.0,129.8 811.9,131.0 809.8,132.2 807.7,133.3 805.6,134.4 803.5,135.5 801.4,136.6 799.4,137.6 797.4,138.6 795.4,139.5 793.4,140.3 791.4,141.1 789.4,141.9 787.3,142.7 785.3,143.4 783.3,144.1 781.4,144.8 779.6,145.4 777.8,145.9 776.0,146.4 774.3,146.8 772.5,147.1 770.7,147.4 768.8,147.7 766.9,147.8 765.0,147.9 762.8,147.9 760.4,147.8 757.8,147.6 755.1,147.3 752.3,147.0 749.4,146.7 746.5,146.3 743.6,146.0 740.8,145.6 737.9,145.3 735.2,145.1 732.7,144.8 730.3,144.6 727.9,144.4 725.5,144.2 723.3,144.1 721.1,143.9 719.0,143.7 717.0,143.5 715.2,143.4 713.7,143.3 712.3,143.1 711.2,143.0" fill="url(#vB1)" filter="url(#bl6)" />
</g>
<g clip-path="url(#cB2)">
<g filter="url(#bg)">
<rect x="1029.5" y="10.8" width="43.5" height="38.7" fill="#b0b0b0"/>
<rect x="1072.0" y="10.8" width="43.5" height="38.7" fill="#b0b0b0"/>
<rect x="1114.5" y="10.8" width="43.5" height="38.7" fill="#b0b0b0"/>
<rect x="1157.0" y="10.8" width="43.5" height="38.7" fill="#b0b0b0"/>
<rect x="1199.5" y="10.8" width="43.5" height="38.7" fill="#aeaeae"/>
<rect x="1242.0" y="10.8" width="43.5" height="38.7" fill="#a8a8a8"/>
<rect x="1284.5" y="10.8" width="43.5" height="38.7" fill="#a4a4a4"/>
<rect x="1327.0" y="10.8" width="43.5" height="38.7" fill="#a0a0a0"/>
<rect x="1369.5" y="10.8" width="43.5" height="38.7" fill="#9c9c9c"/>
<rect x="1412.0" y="10.8" width="43.5" height="38.7" fill="#9c9c9c"/>
<rect x="1029.5" y="48.5" width="43.5" height="38.7" fill="#b0b0b0"/>
<rect x="1072.0" y="48.5" width="43.5" height="38.7" fill="#b0b0b0"/>
<rect x="1114.5" y="48.5" width="43.5" height="38.7" fill="#b0b0b0"/>
<rect x="1157.0" y="48.5" width="43.5" height="38.7" fill="#b0b0b0"/>
<rect x="1199.5" y="48.5" width="43.5" height="38.7" fill="#aeaeae"/>
<rect x="1242.0" y="48.5" width="43.5" height="38.7" fill="#a8a8a8"/>
<rect x="1284.5" y="48.5" width="43.5" height="38.7" fill="#a4a4a4"/>
<rect x="1327.0" y="48.5" width="43.5" height="38.7" fill="#a0a0a0"/>
<rect x="1369.5" y="48.5" width="43.5" height="38.7" fill="#9c9c9c"/>
<rect x="1412.0" y="48.5" width="43.5" height="38.7" fill="#9c9c9c"/>
<rect x="1029.5" y="86.2" width="43.5" height="38.7" fill="#acacac"/>
<rect x="1072.0" y="86.2" width="43.5" height="38.7" fill="#acacac"/>
<rect x="1114.5" y="86.2" width="43.5" height="38.7" fill="#a4a4a4"/>
<rect x="1157.0" y="86.2" width="43.5" height="38.7" fill="#a0a0a0"/>
<rect x="1199.5" y="86.2" width="43.5" height="38.7" fill="#a2a2a2"/>
<rect x="1242.0" y="86.2" width="43.5" height="38.7" fill="#a2a2a2"/>
<rect x="1284.5" y="86.2" width="43.5" height="38.7" fill="#a0a0a0"/>
<rect x="1327.0" y="86.2" width="43.5" height="38.7" fill="#9c9c9c"/>
<rect x="1369.5" y="86.2" width="43.5" height="38.7" fill="#969696"/>
<rect x="1412.0" y="86.2" width="43.5" height="38.7" fill="#969696"/>
<rect x="1029.5" y="123.9" width="43.5" height="38.7" fill="#a4a4a4"/>
<rect x="1072.0" y="123.9" width="43.5" height="38.7" fill="#a4a4a4"/>
<rect x="1114.5" y="123.9" width="43.5" height="38.7" fill="#a0a0a0"/>
<rect x="1157.0" y="123.9" width="43.5" height="38.7" fill="#a2a2a2"/>
<rect x="1199.5" y="123.9" width="43.5" height="38.7" fill="#a8a8a8"/>
<rect x="1242.0" y="123.9" width="43.5" height="38.7" fill="#a0a0a0"/>
<rect x="1284.5" y="123.9" width="43.5" height="38.7" fill="#9a9a9a"/>
<rect x="1327.0" y="123.9" width="43.5" height="38.7" fill="#989898"/>
<rect x="1369.5" y="123.9" width="43.5" height="38.7" fill="#8e8e8e"/>
<rect x="1412.0" y="123.9" width="43.5" height="38.7" fill="#8e8e8e"/>
<rect x="1029.5" y="161.6" width="43.5" height="38.7" fill="#b0b0b0"/>
<rect x="1072.0" y="161.6" width="43.5" height="38.7" fill="#b0b0b0"/>
<rect x="1114.5" y="161.6" width="43.5" height="38.7" fill="#b4b4b4"/>
<rect x="1157.0" y="161.6" width="43.5" height="38.7" fill="#b8b8b8"/>
<rect x="1199.5" y="161.6" width="43.5" height="38.7" fill="#b8b8b8"/>
<rect x="1242.0" y="161.6" width="43.5" height="38.7" fill="#acacac"/>
<rect x="1284.5" y="161.6" width="43.5" height="38.7" fill="#a4a4a4"/>
<rect x="1327.0" y="161.6" width="43.5" height="38.7" fill="#989898"/>
<rect x="1369.5" y="161.6" width="43.5" height="38.7" fill="#8c8c8c"/>
<rect x="1412.0" y="161.6" width="43.5" height="38.7" fill="#8c8c8c"/>
<rect x="1029.5" y="199.3" width="43.5" height="38.7" fill="#b6b6b6"/>
<rect x="1072.0" y="199.3" width="43.5" height="38.7" fill="#b6b6b6"/>
<rect x="1114.5" y="199.3" width="43.5" height="38.7" fill="#b8b8b8"/>
<rect x="1157.0" y="199.3" width="43.5" height="38.7" fill="#bababa"/>
<rect x="1199.5" y="199.3" width="43.5" height="38.7" fill="#bcbcbc"/>
<rect x="1242.0" y="199.3" width="43.5" height="38.7" fill="#b6b6b6"/>
<rect x="1284.5" y="199.3" width="43.5" height="38.7" fill="#a4a4a4"/>
<rect x="1327.0" y="199.3" width="43.5" height="38.7" fill="#949494"/>
<rect x="1369.5" y="199.3" width="43.5" height="38.7" fill="#888888"/>
<rect x="1412.0" y="199.3" width="43.5" height="38.7" fill="#888888"/>
<rect x="1029.5" y="237.0" width="43.5" height="38.7" fill="#b6b6b6"/>
<rect x="1072.0" y="237.0" width="43.5" height="38.7" fill="#b6b6b6"/>
<rect x="1114.5" y="237.0" width="43.5" height="38.7" fill="#b8b8b8"/>
<rect x="1157.0" y="237.0" width="43.5" height="38.7" fill="#bababa"/>
<rect x="1199.5" y="237.0" width="43.5" height="38.7" fill="#bcbcbc"/>
<rect x="1242.0" y="237.0" width="43.5" height="38.7" fill="#b6b6b6"/>
<rect x="1284.5" y="237.0" width="43.5" height="38.7" fill="#a4a4a4"/>
<rect x="1327.0" y="237.0" width="43.5" height="38.7" fill="#949494"/>
<rect x="1369.5" y="237.0" width="43.5" height="38.7" fill="#888888"/>
<rect x="1412.0" y="237.0" width="43.5" height="38.7" fill="#888888"/>
</g>
<path d="M1085 140 C1110 128 1125 112 1145 98 C1158 88 1170 82 1190 78" fill="none" stroke="#8e8e8e" stroke-width="14" opacity="0.55" filter="url(#bl6)"/>
<linearGradient id="vB2" gradientUnits="userSpaceOnUse" x1="1050.0" y1="0" x2="1435.0" y2="0"><stop offset="0.000" stop-color="#727272"/><stop offset="0.260" stop-color="#6c6c6c"/><stop offset="0.468" stop-color="#606060"/><stop offset="0.701" stop-color="#5a5a5a"/><stop offset="1.000" stop-color="#585858"/></linearGradient>
<polygon points="1049.8,191.5 1050.9,191.5 1052.2,191.5 1053.7,191.5 1055.3,191.6 1057.2,191.6 1059.1,191.6 1061.2,191.6 1063.3,191.7 1065.6,191.7 1067.9,191.8 1070.2,191.8 1072.4,191.9 1074.6,192.0 1077.0,192.2 1079.7,192.4 1082.7,192.6 1085.8,192.9 1089.0,193.2 1092.4,193.4 1095.8,193.6 1099.3,193.7 1102.9,193.7 1106.5,193.5 1110.1,193.0 1113.6,192.4 1116.9,191.6 1119.9,190.6 1122.8,189.5 1125.5,188.4 1128.0,187.3 1130.4,186.1 1132.6,185.0 1134.7,183.9 1136.6,182.9 1138.5,182.0 1140.5,181.1 1142.6,180.1 1144.9,179.1 1147.2,178.0 1149.6,176.9 1151.9,175.8 1154.3,174.7 1156.6,173.5 1159.0,172.3 1161.3,171.1 1163.7,169.9 1166.0,168.7 1168.5,167.4 1171.0,166.0 1173.5,164.5 1175.9,162.9 1178.3,161.5 1180.5,160.0 1182.7,158.6 1184.7,157.2 1186.7,156.0 1188.6,154.8 1190.4,153.8 1192.2,152.9 1193.9,152.1 1195.8,151.2 1197.9,150.3 1200.0,149.4 1202.1,148.6 1204.0,147.9 1205.9,147.2 1207.7,146.6 1209.4,146.2 1210.9,145.9 1212.2,145.6 1213.2,145.5 1214.0,145.5 1214.6,145.6 1215.2,145.7 1215.9,145.8 1216.6,146.1 1217.4,146.4 1218.3,146.8 1219.3,147.3 1220.3,147.9 1221.3,148.6 1222.4,149.4 1223.6,150.2 1224.7,151.0 1225.5,151.7 1226.2,152.3 1226.9,153.0 1227.7,153.8 1228.5,154.7 1229.3,155.7 1230.1,156.8 1230.9,157.9 1231.8,159.1 1232.6,160.4 1233.4,161.7 1234.2,162.8 1234.6,163.6 1234.9,164.3 1235.3,165.2 1235.7,166.2 1236.2,167.5 1236.7,169.0 1237.4,170.7 1238.1,172.6 1239.0,174.7 1240.0,176.9 1241.3,179.3 1242.6,181.5 1243.9,183.4 1245.1,185.3 1246.4,187.3 1247.8,189.4 1249.4,191.6 1251.0,193.9 1252.8,196.1 1254.6,198.4 1256.7,200.7 1258.9,203.0 1261.3,205.2 1263.8,207.2 1266.4,209.0 1268.9,210.5 1271.4,211.9 1274.0,213.2 1276.6,214.3 1279.3,215.3 1281.9,216.1 1284.6,216.8 1287.3,217.4 1290.0,217.9 1292.6,218.3 1295.4,218.5 1298.3,218.7 1301.2,218.7 1304.1,218.6 1306.9,218.4 1309.7,218.0 1312.4,217.6 1315.1,217.1 1317.8,216.6 1320.4,215.9 1322.9,215.3 1325.4,214.6 1327.9,213.9 1330.5,213.1 1333.2,212.2 1335.8,211.2 1338.5,210.1 1341.1,209.1 1343.7,207.9 1346.3,206.7 1348.9,205.5 1351.4,204.3 1353.8,203.0 1356.2,201.6 1358.5,200.3 1360.8,198.9 1363.1,197.4 1365.2,195.9 1367.2,194.4 1369.2,192.9 1371.1,191.3 1372.9,189.8 1374.6,188.3 1376.3,186.7 1378.0,185.2 1379.7,183.7 1381.4,182.0 1383.3,180.2 1385.2,178.3 1387.0,176.4 1388.8,174.5 1390.5,172.6 1392.1,170.8 1393.8,168.9 1395.4,167.2 1397.0,165.4 1398.6,163.7 1400.1,162.1 1401.7,160.5 1403.4,158.8 1405.1,157.1 1406.9,155.3 1408.7,153.6 1410.5,151.9 1412.3,150.1 1414.1,148.4 1416.0,146.7 1417.8,145.0 1419.7,143.3 1421.5,141.6 1423.3,140.0 1425.2,138.4 1427.1,136.6 1429.2,134.9 1431.4,133.0 1433.6,131.2 1435.7,129.4 1437.8,127.7 1439.8,126.1 1441.6,124.6 1443.3,123.2 1444.7,122.0 1445.9,121.1 1424.1,94.9 1423.0,95.8 1421.7,97.0 1420.1,98.3 1418.2,99.8 1416.2,101.5 1414.1,103.2 1411.8,105.1 1409.5,107.0 1407.3,108.9 1405.0,110.9 1402.8,112.8 1400.7,114.6 1398.7,116.4 1396.8,118.2 1394.8,120.0 1392.8,121.8 1390.9,123.6 1388.9,125.4 1387.0,127.3 1385.1,129.1 1383.1,131.0 1381.3,132.8 1379.4,134.7 1377.5,136.5 1375.6,138.5 1373.7,140.5 1371.9,142.4 1370.2,144.4 1368.5,146.2 1366.8,148.1 1365.3,149.8 1363.7,151.5 1362.2,153.1 1360.8,154.6 1359.4,156.0 1358.0,157.4 1356.5,158.8 1354.9,160.2 1353.5,161.6 1352.0,162.9 1350.7,164.1 1349.3,165.2 1348.0,166.3 1346.7,167.3 1345.3,168.3 1344.0,169.3 1342.6,170.2 1341.1,171.1 1339.4,172.1 1337.6,173.1 1335.8,174.0 1333.9,175.0 1331.9,176.0 1329.9,176.9 1327.8,177.8 1325.8,178.6 1323.8,179.4 1321.9,180.1 1319.9,180.7 1318.1,181.3 1316.1,181.9 1314.2,182.4 1312.3,182.9 1310.4,183.4 1308.5,183.8 1306.8,184.1 1305.1,184.3 1303.5,184.5 1301.9,184.7 1300.5,184.7 1299.2,184.7 1298.0,184.7 1296.7,184.5 1295.3,184.3 1294.0,184.1 1292.7,183.8 1291.5,183.5 1290.3,183.1 1289.1,182.7 1288.0,182.2 1287.0,181.7 1286.0,181.1 1285.0,180.5 1284.2,180.0 1283.4,179.4 1282.6,178.6 1281.7,177.6 1280.6,176.4 1279.5,175.0 1278.3,173.5 1277.1,171.8 1275.9,170.1 1274.7,168.4 1273.5,166.6 1272.4,164.8 1271.4,163.3 1270.7,162.2 1270.1,161.3 1269.6,160.3 1269.1,159.2 1268.5,158.0 1267.9,156.6 1267.2,155.0 1266.4,153.2 1265.5,151.2 1264.5,149.1 1263.2,146.9 1261.8,144.8 1260.6,143.1 1259.4,141.5 1258.2,139.8 1256.9,138.1 1255.5,136.4 1254.1,134.7 1252.6,133.0 1250.9,131.3 1249.2,129.7 1247.3,128.0 1245.3,126.4 1243.3,125.0 1241.5,123.8 1239.7,122.7 1237.8,121.5 1235.8,120.4 1233.6,119.3 1231.3,118.2 1228.8,117.2 1226.1,116.3 1223.3,115.5 1220.3,115.0 1217.2,114.6 1214.0,114.5 1210.8,114.6 1207.7,115.0 1204.7,115.5 1201.9,116.2 1199.0,117.0 1196.3,117.8 1193.6,118.7 1190.9,119.7 1188.4,120.7 1185.9,121.8 1183.4,122.8 1180.9,123.9 1178.2,125.2 1175.5,126.6 1173.0,128.1 1170.5,129.6 1168.1,131.1 1165.8,132.6 1163.6,134.0 1161.4,135.4 1159.3,136.8 1157.3,138.0 1155.4,139.1 1153.5,140.2 1151.5,141.3 1149.4,142.4 1147.2,143.5 1145.1,144.6 1142.9,145.7 1140.7,146.8 1138.5,147.8 1136.4,148.9 1134.2,149.9 1132.0,150.9 1129.8,151.9 1127.5,152.9 1125.1,154.0 1122.7,155.2 1120.5,156.3 1118.5,157.4 1116.6,158.4 1114.8,159.2 1113.1,160.0 1111.5,160.7 1109.9,161.3 1108.5,161.7 1107.0,162.1 1105.5,162.4 1103.8,162.6 1101.9,162.7 1099.5,162.7 1097.0,162.6 1094.3,162.5 1091.4,162.3 1088.4,162.0 1085.4,161.8 1082.4,161.5 1079.4,161.2 1076.4,161.0 1073.6,160.9 1071.0,160.8 1068.6,160.8 1066.2,160.7 1063.9,160.7 1061.7,160.7 1059.5,160.6 1057.6,160.6 1055.7,160.6 1054.0,160.6 1052.6,160.5 1051.3,160.5 1050.2,160.5" fill="url(#vB2)" filter="url(#bl6)" />
</g>
<rect x="733.5" y="49" width="679" height="188.3" fill="none" stroke="#1c1c1c" stroke-width="1.3"/>
<line x1="1072.6" y1="49" x2="1072.6" y2="237.5" stroke="#111" stroke-width="1.1"/>
<line x1="741.8" y1="221" x2="775" y2="221" stroke="#0c0c0c" stroke-width="2.1"/>
<line x1="1080.7" y1="221" x2="1113.7" y2="221" stroke="#0c0c0c" stroke-width="2.1"/>
<polygon points="939.8,136.6 954.4,138.3 950.9,134.4 973.5,123.7 971.1,118.9 948.6,129.5 947.8,124.3" fill="#fff" stroke="#0a0a0a" stroke-width="1.5" stroke-linejoin="miter"/>
<polygon points="1278.4,136.6 1293.0,138.3 1289.5,134.4 1312.1,123.7 1309.7,118.9 1287.2,129.5 1286.4,124.3" fill="#fff" stroke="#0a0a0a" stroke-width="1.5" stroke-linejoin="miter"/>
<text class="b" transform="translate(2.1 324.1) scale(1 1.030)" font-size="33.2" text-anchor="start">C</text>
<path d="M120.7 341.8 H139.7 V789.7 H587.0" fill="none" stroke="#000" stroke-width="4.3" stroke-linejoin="miter"/>
<line x1="120.7" y1="341.8" x2="139.7" y2="341.8" stroke="#000" stroke-width="4.3"/>
<text class="b" transform="translate(113.5 354.8) scale(1 1.090)" font-size="34.5" text-anchor="end">150</text>
<line x1="120.7" y1="491.1" x2="139.7" y2="491.1" stroke="#000" stroke-width="4.3"/>
<text class="b" transform="translate(113.5 504.1) scale(1 1.090)" font-size="34.5" text-anchor="end">100</text>
<line x1="120.7" y1="640.4" x2="139.7" y2="640.4" stroke="#000" stroke-width="4.3"/>
<text class="b" transform="translate(113.5 653.4) scale(1 1.090)" font-size="34.5" text-anchor="end">50</text>
<line x1="120.7" y1="789.7" x2="139.7" y2="789.7" stroke="#000" stroke-width="4.3"/>
<text class="b" transform="translate(113.5 802.7) scale(1 1.090)" font-size="34.5" text-anchor="end">0</text>
<line x1="244.0" y1="789.7" x2="244.0" y2="808.2" stroke="#000" stroke-width="4.3"/>
<text class="b" transform="translate(244.0 847.0) scale(1 1.040)" font-size="34.5" text-anchor="middle">Sham</text>
<line x1="483.0" y1="789.7" x2="483.0" y2="808.2" stroke="#000" stroke-width="4.3"/>
<text class="b" transform="translate(483.0 847.0) scale(1 1.040)" font-size="34.5" text-anchor="middle">Ligated</text>
<text transform="translate(31.0 569.3) rotate(-90) scale(1 1.040)" font-size="33.6" text-anchor="middle">Midzone Diameter (μm)</text>
<circle cx="197.7" cy="361.4" r="6.7" fill="#000"/>
<circle cx="197.7" cy="408.6" r="6.8" fill="none" stroke="#000" stroke-width="4.1"/>
<text transform="translate(247.6 372.6) scale(1 1.040)" font-size="30.3" text-anchor="start">Rest</text>
<text transform="translate(247.6 419.6) scale(1 1.040)" font-size="30.0" text-anchor="start">Nifedipine</text>
<text class="b" x="284.0" y="526.5" font-size="40.5" text-anchor="middle">*</text>
<text class="b" transform="translate(430.6 425.8) scale(1 1.020)" font-size="31.8" text-anchor="middle" stroke="#000" stroke-width="1.7" stroke-linejoin="miter">#</text>
<text class="b" x="510.8" y="434.9" font-size="40.5" text-anchor="middle">*</text>
<text class="b" transform="translate(537.0 425.8) scale(1 1.020)" font-size="31.8" text-anchor="middle" stroke="#000" stroke-width="1.7" stroke-linejoin="miter">#</text>
<circle cx="199.4" cy="633.0" r="6.7" fill="#000"/>
<circle cx="199.4" cy="654.0" r="6.7" fill="#000"/>
<circle cx="199.4" cy="660.0" r="6.7" fill="#000"/>
<circle cx="199.4" cy="667.0" r="6.7" fill="#000"/>
<circle cx="199.4" cy="674.0" r="6.7" fill="#000"/>
<circle cx="199.4" cy="681.0" r="6.7" fill="#000"/>
<circle cx="199.4" cy="687.0" r="6.7" fill="#000"/>
<circle cx="199.4" cy="693.0" r="6.7" fill="#000"/>
<line x1="199.4" y1="661.0" x2="199.4" y2="674.0" stroke="#000" stroke-width="2.6"/>
<line x1="183.7" y1="661.0" x2="215.1" y2="661.0" stroke="#000" stroke-width="2.6"/>
<line x1="183.7" y1="674.0" x2="215.1" y2="674.0" stroke="#000" stroke-width="2.6"/>
<line x1="169.6" y1="667.7" x2="229.2" y2="667.7" stroke="#000" stroke-width="7.0"/>
<circle cx="288.6" cy="579.3" r="6.8" fill="none" stroke="#000" stroke-width="4.1"/>
<circle cx="288.6" cy="598.2" r="6.8" fill="none" stroke="#000" stroke-width="4.1"/>
<circle cx="288.6" cy="628.5" r="6.8" fill="none" stroke="#000" stroke-width="4.1"/>
<circle cx="288.6" cy="634.0" r="6.8" fill="none" stroke="#000" stroke-width="4.1"/>
<circle cx="288.6" cy="640.0" r="6.8" fill="none" stroke="#000" stroke-width="4.1"/>
<circle cx="288.6" cy="646.0" r="6.8" fill="none" stroke="#000" stroke-width="4.1"/>
<circle cx="288.6" cy="651.0" r="6.8" fill="none" stroke="#000" stroke-width="4.1"/>
<circle cx="288.6" cy="655.5" r="6.8" fill="none" stroke="#000" stroke-width="4.1"/>
<line x1="288.4" y1="620.7" x2="288.4" y2="640.0" stroke="#000" stroke-width="2.6"/>
<line x1="272.7" y1="620.7" x2="304.1" y2="620.7" stroke="#000" stroke-width="2.6"/>
<line x1="272.7" y1="640.0" x2="304.1" y2="640.0" stroke="#000" stroke-width="2.6"/>
<line x1="258.6" y1="630.5" x2="318.2" y2="630.5" stroke="#000" stroke-width="7.0"/>
<circle cx="437.8" cy="504.7" r="6.7" fill="#000"/>
<circle cx="437.8" cy="516.0" r="6.7" fill="#000"/>
<circle cx="437.8" cy="522.0" r="6.7" fill="#000"/>
<circle cx="437.8" cy="530.0" r="6.7" fill="#000"/>
<circle cx="437.8" cy="538.0" r="6.7" fill="#000"/>
<circle cx="437.8" cy="545.0" r="6.7" fill="#000"/>
<circle cx="437.8" cy="551.0" r="6.7" fill="#000"/>
<circle cx="437.8" cy="563.4" r="6.7" fill="#000"/>
<line x1="437.8" y1="526.3" x2="437.8" y2="540.0" stroke="#000" stroke-width="2.6"/>
<line x1="421.9" y1="526.3" x2="453.7" y2="526.3" stroke="#000" stroke-width="2.6"/>
<line x1="421.9" y1="540.0" x2="453.7" y2="540.0" stroke="#000" stroke-width="2.6"/>
<line x1="408.0" y1="533.1" x2="467.6" y2="533.1" stroke="#000" stroke-width="7.0"/>
<circle cx="527.5" cy="458.2" r="6.8" fill="none" stroke="#000" stroke-width="4.1"/>
<circle cx="527.5" cy="474.7" r="6.8" fill="none" stroke="#000" stroke-width="4.1"/>
<circle cx="527.5" cy="482.0" r="6.8" fill="none" stroke="#000" stroke-width="4.1"/>
<circle cx="527.5" cy="488.0" r="6.8" fill="none" stroke="#000" stroke-width="4.1"/>
<circle cx="527.5" cy="493.0" r="6.8" fill="none" stroke="#000" stroke-width="4.1"/>
<circle cx="527.5" cy="506.7" r="6.8" fill="none" stroke="#000" stroke-width="4.1"/>
<line x1="527.5" y1="480.5" x2="527.5" y2="491.5" stroke="#000" stroke-width="2.6"/>
<line x1="511.6" y1="480.5" x2="543.4" y2="480.5" stroke="#000" stroke-width="2.6"/>
<line x1="511.6" y1="491.5" x2="543.4" y2="491.5" stroke="#000" stroke-width="2.6"/>
<line x1="497.7" y1="486.1" x2="557.3" y2="486.1" stroke="#000" stroke-width="7.0"/>
<text class="b" transform="translate(733.5 324.2) scale(1 1.030)" font-size="33.2" text-anchor="start">D</text>
<path d="M857.3 343.1 H876.5 V789.9 H1325.0" fill="none" stroke="#000" stroke-width="4.3" stroke-linejoin="miter"/>
<line x1="857.3" y1="343.1" x2="876.5" y2="343.1" stroke="#000" stroke-width="4.3"/>
<text class="b" transform="translate(850.1 356.1) scale(1 1.090)" font-size="34.5" text-anchor="end">150</text>
<line x1="857.3" y1="492.4" x2="876.5" y2="492.4" stroke="#000" stroke-width="4.3"/>
<text class="b" transform="translate(850.1 505.4) scale(1 1.090)" font-size="34.5" text-anchor="end">100</text>
<line x1="857.3" y1="641.1" x2="876.5" y2="641.1" stroke="#000" stroke-width="4.3"/>
<text class="b" transform="translate(850.1 654.1) scale(1 1.090)" font-size="34.5" text-anchor="end">50</text>
<line x1="857.3" y1="789.9" x2="876.5" y2="789.9" stroke="#000" stroke-width="4.3"/>
<text class="b" transform="translate(850.1 802.9) scale(1 1.090)" font-size="34.5" text-anchor="end">0</text>
<line x1="981.0" y1="789.9" x2="981.0" y2="808.4" stroke="#000" stroke-width="4.3"/>
<text class="b" transform="translate(981.0 847.0) scale(1 1.040)" font-size="34.5" text-anchor="middle">Sham</text>
<line x1="1220.4" y1="789.9" x2="1220.4" y2="808.4" stroke="#000" stroke-width="4.3"/>
<text class="b" transform="translate(1220.4 847.0) scale(1 1.040)" font-size="34.5" text-anchor="middle">Ligated</text>
<text transform="translate(767.0 569.3) rotate(-90) scale(1 1.040)" font-size="33.6" text-anchor="middle">Midzone Diameter (μm)</text>
<circle cx="916.4" cy="355.0" r="6.7" fill="#000"/>
<circle cx="916.4" cy="397.7" r="6.8" fill="none" stroke="#000" stroke-width="4.1"/>
<text transform="translate(966.6 366.5) scale(1 1.040)" font-size="30.3" text-anchor="start">Rest</text>
<text transform="translate(966.6 409.0) scale(1 1.040)" font-size="30.0" text-anchor="start">Nifedipine</text>
<text class="b" x="1021.4" y="475.1" font-size="40.5" text-anchor="middle">*</text>
<text class="b" transform="translate(1162.4 357.2) scale(1 1.020)" font-size="31.8" text-anchor="middle" stroke="#000" stroke-width="1.7" stroke-linejoin="miter">#</text>
<text class="b" transform="translate(1187.6 358.0) scale(1 1.040)" font-size="34.5" text-anchor="middle">$</text>
<text class="b" x="1265.3" y="367.9" font-size="40.5" text-anchor="middle">*</text>
<text class="b" transform="translate(1290.5 357.2) scale(1 1.020)" font-size="31.8" text-anchor="middle" stroke="#000" stroke-width="1.7" stroke-linejoin="miter">#</text>
<circle cx="935.8" cy="567.0" r="6.7" fill="#000"/>
<circle cx="935.8" cy="679.0" r="6.7" fill="#000"/>
<circle cx="935.8" cy="684.0" r="6.7" fill="#000"/>
<circle cx="935.8" cy="689.0" r="6.7" fill="#000"/>
<circle cx="935.8" cy="694.0" r="6.7" fill="#000"/>
<circle cx="935.8" cy="699.0" r="6.7" fill="#000"/>
<circle cx="935.8" cy="703.0" r="6.7" fill="#000"/>
<circle cx="935.8" cy="705.5" r="6.7" fill="#000"/>
<line x1="935.8" y1="658.6" x2="935.8" y2="690.3" stroke="#000" stroke-width="2.6"/>
<line x1="920.1" y1="658.6" x2="951.5" y2="658.6" stroke="#000" stroke-width="2.6"/>
<line x1="920.1" y1="690.3" x2="951.5" y2="690.3" stroke="#000" stroke-width="2.6"/>
<line x1="905.8" y1="674.3" x2="965.8" y2="674.3" stroke="#000" stroke-width="7.0"/>
<circle cx="1026.0" cy="522.5" r="6.8" fill="none" stroke="#000" stroke-width="4.1"/>
<circle cx="1026.0" cy="641.0" r="6.8" fill="none" stroke="#000" stroke-width="4.1"/>
<circle cx="1026.0" cy="647.0" r="6.8" fill="none" stroke="#000" stroke-width="4.1"/>
<circle cx="1026.0" cy="653.0" r="6.8" fill="none" stroke="#000" stroke-width="4.1"/>
<circle cx="1026.0" cy="659.0" r="6.8" fill="none" stroke="#000" stroke-width="4.1"/>
<circle cx="1026.0" cy="664.2" r="6.8" fill="none" stroke="#000" stroke-width="4.1"/>
<line x1="1026.0" y1="617.2" x2="1026.0" y2="649.7" stroke="#000" stroke-width="2.6"/>
<line x1="1010.3" y1="617.2" x2="1041.7" y2="617.2" stroke="#000" stroke-width="2.6"/>
<line x1="1010.3" y1="649.7" x2="1041.7" y2="649.7" stroke="#000" stroke-width="2.6"/>
<line x1="996.0" y1="633.2" x2="1056.0" y2="633.2" stroke="#000" stroke-width="7.0"/>
<circle cx="1175.4" cy="525.3" r="6.7" fill="#000"/>
<circle cx="1175.4" cy="533.2" r="6.7" fill="#000"/>
<circle cx="1175.4" cy="552.7" r="6.7" fill="#000"/>
<circle cx="1175.4" cy="567.1" r="6.7" fill="#000"/>
<circle cx="1175.4" cy="588.7" r="6.7" fill="#000"/>
<circle cx="1175.4" cy="617.2" r="6.7" fill="#000"/>
<circle cx="1175.4" cy="623.5" r="6.7" fill="#000"/>
<circle cx="1175.4" cy="643.0" r="6.7" fill="#000"/>
<line x1="1175.4" y1="565.6" x2="1175.4" y2="596.8" stroke="#000" stroke-width="2.6"/>
<line x1="1159.7" y1="565.6" x2="1191.1" y2="565.6" stroke="#000" stroke-width="2.6"/>
<line x1="1159.7" y1="596.8" x2="1191.1" y2="596.8" stroke="#000" stroke-width="2.6"/>
<line x1="1145.4" y1="581.2" x2="1205.4" y2="581.2" stroke="#000" stroke-width="7.0"/>
<circle cx="1265.3" cy="465.3" r="6.8" fill="none" stroke="#000" stroke-width="4.1"/>
<circle cx="1265.3" cy="484.1" r="6.8" fill="none" stroke="#000" stroke-width="4.1"/>
<circle cx="1265.3" cy="503.7" r="6.8" fill="none" stroke="#000" stroke-width="4.1"/>
<circle cx="1265.3" cy="509.9" r="6.8" fill="none" stroke="#000" stroke-width="4.1"/>
<circle cx="1265.3" cy="521.8" r="6.8" fill="none" stroke="#000" stroke-width="4.1"/>
<circle cx="1265.3" cy="574.0" r="6.8" fill="none" stroke="#000" stroke-width="4.1"/>
<circle cx="1265.3" cy="589.4" r="6.8" fill="none" stroke="#000" stroke-width="4.1"/>
<line x1="1265.3" y1="512.6" x2="1265.3" y2="547.0" stroke="#000" stroke-width="2.6"/>
<line x1="1249.6" y1="512.6" x2="1281.0" y2="512.6" stroke="#000" stroke-width="2.6"/>
<line x1="1249.6" y1="547.0" x2="1281.0" y2="547.0" stroke="#000" stroke-width="2.6"/>
<line x1="1235.3" y1="529.6" x2="1295.3" y2="529.6" stroke="#000" stroke-width="7.0"/>
<text class="b" transform="translate(1.7 923.1) scale(1 1.030)" font-size="33.2" text-anchor="start">E</text>
<path d="M120.7 988.0 H139.7 V1437.7 H588.4" fill="none" stroke="#000" stroke-width="4.3" stroke-linejoin="miter"/>
<line x1="120.7" y1="988.0" x2="139.7" y2="988.0" stroke="#000" stroke-width="4.3"/>
<text class="b" transform="translate(113.5 1001.0) scale(1 1.090)" font-size="34.5" text-anchor="end">100</text>
<line x1="120.7" y1="1077.8" x2="139.7" y2="1077.8" stroke="#000" stroke-width="4.3"/>
<text class="b" transform="translate(113.5 1090.8) scale(1 1.090)" font-size="34.5" text-anchor="end">80</text>
<line x1="120.7" y1="1167.6" x2="139.7" y2="1167.6" stroke="#000" stroke-width="4.3"/>
<text class="b" transform="translate(113.5 1180.6) scale(1 1.090)" font-size="34.5" text-anchor="end">60</text>
<line x1="120.7" y1="1258.0" x2="139.7" y2="1258.0" stroke="#000" stroke-width="4.3"/>
<text class="b" transform="translate(113.5 1271.0) scale(1 1.090)" font-size="34.5" text-anchor="end">40</text>
<line x1="120.7" y1="1348.1" x2="139.7" y2="1348.1" stroke="#000" stroke-width="4.3"/>
<text class="b" transform="translate(113.5 1361.1) scale(1 1.090)" font-size="34.5" text-anchor="end">20</text>
<line x1="120.7" y1="1437.9" x2="139.7" y2="1437.9" stroke="#000" stroke-width="4.3"/>
<text class="b" transform="translate(113.5 1450.9) scale(1 1.090)" font-size="34.5" text-anchor="end">0</text>
<line x1="267.4" y1="1437.7" x2="267.4" y2="1456.2" stroke="#000" stroke-width="4.3"/>
<text class="b" transform="translate(267.4 1494.7) scale(1 1.040)" font-size="34.5" text-anchor="middle">Sham</text>
<line x1="460.1" y1="1437.7" x2="460.1" y2="1456.2" stroke="#000" stroke-width="4.3"/>
<text class="b" transform="translate(460.1 1494.7) scale(1 1.040)" font-size="34.5" text-anchor="middle">Ligated</text>
<text transform="translate(31.0 1213.0) rotate(-90) scale(1 1.040)" font-size="33.6" text-anchor="middle">Percent Change in Diameter (%)</text>
<circle cx="267.8" cy="1083.7" r="6.7" fill="#000"/>
<circle cx="267.8" cy="1266.6" r="6.7" fill="#000"/>
<circle cx="267.8" cy="1271.6" r="6.7" fill="#000"/>
<circle cx="267.8" cy="1318.6" r="6.7" fill="#000"/>
<circle cx="267.8" cy="1339.7" r="6.7" fill="#000"/>
<circle cx="267.8" cy="1414.2" r="6.7" fill="#000"/>
<line x1="267.8" y1="1261.5" x2="267.8" y2="1330.8" stroke="#000" stroke-width="2.6"/>
<line x1="235.4" y1="1261.5" x2="300.2" y2="1261.5" stroke="#000" stroke-width="2.6"/>
<line x1="235.4" y1="1330.8" x2="300.2" y2="1330.8" stroke="#000" stroke-width="2.6"/>
<line x1="203.8" y1="1296.5" x2="331.8" y2="1296.5" stroke="#000" stroke-width="7.0"/>
<circle cx="460.4" cy="1297.5" r="6.7" fill="#000"/>
<circle cx="460.4" cy="1327.6" r="6.7" fill="#000"/>
<circle cx="460.4" cy="1338.2" r="6.7" fill="#000"/>
<circle cx="460.4" cy="1346.7" r="6.7" fill="#000"/>
<circle cx="460.4" cy="1371.0" r="6.7" fill="#000"/>
<circle cx="460.4" cy="1379.5" r="6.7" fill="#000"/>
<circle cx="460.4" cy="1385.9" r="6.7" fill="#000"/>
<circle cx="460.4" cy="1392.7" r="6.7" fill="#000"/>
<line x1="460.4" y1="1343.5" x2="460.4" y2="1366.7" stroke="#000" stroke-width="2.6"/>
<line x1="427.8" y1="1343.5" x2="493.0" y2="1343.5" stroke="#000" stroke-width="2.6"/>
<line x1="427.8" y1="1366.7" x2="493.0" y2="1366.7" stroke="#000" stroke-width="2.6"/>
<line x1="396.4" y1="1354.7" x2="524.4" y2="1354.7" stroke="#000" stroke-width="7.0"/>
<text class="b" transform="translate(733.1 923.4) scale(1 1.030)" font-size="33.2" text-anchor="start">F</text>
<path d="M862.5 987.6 H881.9 V1434.4 H1325.1" fill="none" stroke="#000" stroke-width="4.3" stroke-linejoin="miter"/>
<line x1="862.5" y1="987.6" x2="881.9" y2="987.6" stroke="#000" stroke-width="4.3"/>
<text class="b" transform="translate(855.3 1000.6) scale(1 1.090)" font-size="34.5" text-anchor="end">100</text>
<line x1="862.5" y1="1077.0" x2="881.9" y2="1077.0" stroke="#000" stroke-width="4.3"/>
<text class="b" transform="translate(855.3 1090.0) scale(1 1.090)" font-size="34.5" text-anchor="end">80</text>
<line x1="862.5" y1="1166.4" x2="881.9" y2="1166.4" stroke="#000" stroke-width="4.3"/>
<text class="b" transform="translate(855.3 1179.4) scale(1 1.090)" font-size="34.5" text-anchor="end">60</text>
<line x1="862.5" y1="1255.8" x2="881.9" y2="1255.8" stroke="#000" stroke-width="4.3"/>
<text class="b" transform="translate(855.3 1268.8) scale(1 1.090)" font-size="34.5" text-anchor="end">40</text>
<line x1="862.5" y1="1345.2" x2="881.9" y2="1345.2" stroke="#000" stroke-width="4.3"/>
<text class="b" transform="translate(855.3 1358.2) scale(1 1.090)" font-size="34.5" text-anchor="end">20</text>
<line x1="862.5" y1="1434.5" x2="881.9" y2="1434.5" stroke="#000" stroke-width="4.3"/>
<text class="b" transform="translate(855.3 1447.5) scale(1 1.090)" font-size="34.5" text-anchor="end">0</text>
<line x1="1008.0" y1="1434.4" x2="1008.0" y2="1452.9" stroke="#000" stroke-width="4.3"/>
<text class="b" transform="translate(1008.0 1490.4) scale(1 1.040)" font-size="34.5" text-anchor="middle">Sham</text>
<line x1="1198.5" y1="1434.4" x2="1198.5" y2="1452.9" stroke="#000" stroke-width="4.3"/>
<text class="b" transform="translate(1198.5 1490.4) scale(1 1.040)" font-size="34.5" text-anchor="middle">Ligated</text>
<text transform="translate(775.3 1213.0) rotate(-90) scale(1 1.040)" font-size="33.6" text-anchor="middle">Percent Change in Diameter (%)</text>
<circle cx="1008.1" cy="1078.6" r="6.7" fill="#000"/>
<circle cx="1008.1" cy="1259.5" r="6.7" fill="#000"/>
<circle cx="1008.1" cy="1266.0" r="6.7" fill="#000"/>
<circle cx="1008.1" cy="1272.7" r="6.7" fill="#000"/>
<circle cx="1008.1" cy="1293.7" r="6.7" fill="#000"/>
<circle cx="1008.1" cy="1297.2" r="6.7" fill="#000"/>
<circle cx="1008.1" cy="1346.3" r="6.7" fill="#000"/>
<line x1="1008.0" y1="1232.3" x2="1008.0" y2="1288.0" stroke="#000" stroke-width="2.6"/>
<line x1="975.8" y1="1232.3" x2="1040.2" y2="1232.3" stroke="#000" stroke-width="2.6"/>
<line x1="975.8" y1="1288.0" x2="1040.2" y2="1288.0" stroke="#000" stroke-width="2.6"/>
<line x1="944.6" y1="1260.3" x2="1071.4" y2="1260.3" stroke="#000" stroke-width="7.0"/>
<circle cx="1198.7" cy="1272.8" r="6.7" fill="#000"/>
<circle cx="1198.7" cy="1284.4" r="6.7" fill="#000"/>
<circle cx="1198.7" cy="1321.5" r="6.7" fill="#000"/>
<circle cx="1198.7" cy="1333.6" r="6.7" fill="#000"/>
<circle cx="1198.7" cy="1343.7" r="6.7" fill="#000"/>
<circle cx="1198.7" cy="1349.5" r="6.7" fill="#000"/>
<line x1="1198.8" y1="1311.7" x2="1198.8" y2="1332.1" stroke="#000" stroke-width="2.6"/>
<line x1="1166.4" y1="1311.7" x2="1231.2" y2="1311.7" stroke="#000" stroke-width="2.6"/>
<line x1="1166.4" y1="1332.1" x2="1231.2" y2="1332.1" stroke="#000" stroke-width="2.6"/>
<line x1="1135.3" y1="1321.8" x2="1262.3" y2="1321.8" stroke="#000" stroke-width="7.0"/>
</svg></body></html>
